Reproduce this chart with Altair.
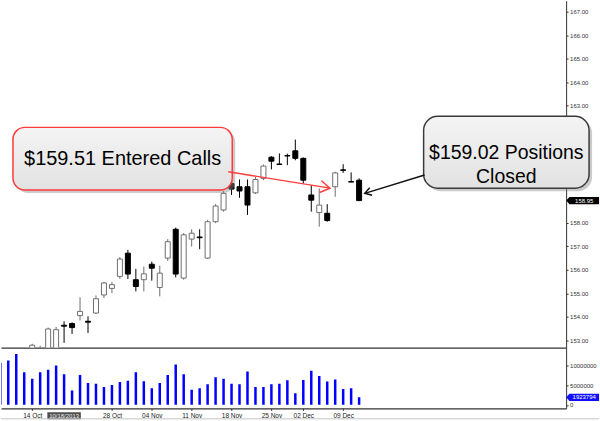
import math
from datetime import date

import altair as alt
import pandas as pd

# Trading sessions on the chart (weekends and Thanksgiving are skipped)
sessions = [
    "2013-10-08", "2013-10-09", "2013-10-10", "2013-10-11",
    "2013-10-14", "2013-10-15", "2013-10-16", "2013-10-17", "2013-10-18",
    "2013-10-21", "2013-10-22", "2013-10-23", "2013-10-24", "2013-10-25",
    "2013-10-28", "2013-10-29", "2013-10-30", "2013-10-31", "2013-11-01",
    "2013-11-04", "2013-11-05", "2013-11-06", "2013-11-07", "2013-11-08",
    "2013-11-11", "2013-11-12", "2013-11-13", "2013-11-14", "2013-11-15",
    "2013-11-18", "2013-11-19", "2013-11-20", "2013-11-21", "2013-11-22",
    "2013-11-25", "2013-11-26", "2013-11-27", "2013-11-29",
    "2013-12-02", "2013-12-03", "2013-12-04", "2013-12-05", "2013-12-06",
    "2013-12-09", "2013-12-10", "2013-12-11",
]

# Daily volume, one value per session
volume = [
    10800000, 11400000, 13100000, 8400000,
    6700000, 8400000, 9000000, 10100000, 7900000,
    3700000, 7700000, 5600000, 5400000, 4600000,
    5100000, 5900000, 6200000, 8400000, 6100000,
    4300000, 5600000, 7700000, 10400000, 7900000,
    3900000, 4300000, 5300000, 7100000, 6700000,
    5400000, 5300000, 8600000, 4600000, 4600000,
    5300000, 5400000, 6300000, 3000000,
    6400000, 8800000, 7400000, 6000000, 6500000,
    4100000, 4300000, 1923794,
]

# Daily prices from 14 Oct onward
candle_start = "2013-10-14"
opens = [
    152.65, 152.30, 152.20, 152.30, 153.64,
    153.71, 154.05, 153.81, 154.16, 154.93,
    155.21, 155.72, 156.71, 155.58, 155.58,
    156.24, 155.25, 156.50, 157.73, 155.65,
    157.31, 157.40, 156.50, 158.05, 158.55,
    159.68, 159.54, 159.54, 159.28, 159.90,
    160.80, 160.51, 160.87, 161.07,
    160.75, 159.19, 158.44, 158.41, 159.54,
    160.26, 159.76, 159.82,
]
highs = [
    152.85, 152.77, 153.54, 153.57, 153.81,
    153.76, 154.83, 154.02, 154.91, 155.49,
    155.49, 156.54, 156.85, 156.04, 156.14,
    156.35, 156.18, 157.31, 157.80, 157.57,
    157.73, 157.73, 158.13, 158.80, 159.36,
    159.96, 159.85, 159.85, 159.96, 160.49,
    160.84, 160.96, 160.95, 161.55,
    160.79, 159.61, 159.47, 158.80, 160.18,
    160.50, 160.15, 159.90,
]
lows = [
    152.40, 152.00, 152.10, 152.20, 152.89,
    153.27, 153.84, 153.31, 154.12, 154.80,
    155.01, 155.61, 155.61, 155.08, 155.08,
    155.54, 154.87, 156.38, 155.68, 155.58,
    156.99, 156.88, 156.47, 157.99, 158.48,
    159.19, 159.07, 158.34, 159.23, 159.82,
    160.28, 160.48, 160.46, 160.67,
    159.68, 158.48, 157.84, 158.05, 159.11,
    160.13, 159.74, 158.93,
]
closes = [
    152.79, 152.50, 153.48, 153.45, 153.60,
    153.54, 154.23, 153.77, 154.77, 155.44,
    155.37, 156.46, 155.82, 155.29, 155.83,
    156.07, 155.86, 157.20, 155.82, 157.49,
    157.56, 157.37, 158.05, 158.72, 159.26,
    159.44, 159.36, 158.76, 159.85, 160.42,
    160.63, 160.49, 160.85, 160.75,
    159.82, 158.97, 158.76, 158.10, 160.13,
    160.24, 159.74, 158.95,
]

# Weekly date labels along the bottom axis, and the highlighted session
axis_dates = ["2013-10-14", "2013-10-28", "2013-11-04", "2013-11-11",
              "2013-11-18", "2013-11-25", "2013-12-02", "2013-12-09"]
marker_date = "2013-10-18"

entry_price = 159.51
exit_price = 159.02
# price gridline labels left uncovered by the exit callout and the last-price tag
price_ticks = [153, 154, 155, 156, 157, 158, 163, 164, 165, 166, 167]
volume_ticks = [0, 5000000, 10000000]

# ---- layout -------------------------------------------------------------
W = 567
H_PRICE = 348
H_VOL = 61
X0, X1 = 0.0875, 70.96           # session-index range across the plot
P0, P1 = 152.69, 167.467         # price range of the upper panel
V0, V1 = -897000, 14740000       # volume range of the lower panel
PX_PER_X = W / (X1 - X0)
PX_PER_P = H_PRICE / (P1 - P0)

FONT = "Liberation Sans"
AXIS_COLOR = "#333333"

idx = {d: i for i, d in enumerate(sessions)}
k0 = idx[candle_start]

candles = pd.DataFrame({
    "i": list(range(k0, k0 + len(opens))),
    "open": opens, "high": highs, "low": lows, "close": closes,
})
candles["dir"] = ["up" if c >= o else "down" for o, c in zip(opens, closes)]

vol_df = pd.DataFrame({"i": list(range(len(sessions))), "vol": volume})

xs = alt.Scale(domain=[X0, X1], nice=False, zero=False, padding=0)
ps = alt.Scale(domain=[P0, P1], nice=False, zero=False, padding=0)
vs = alt.Scale(domain=[V0, V1], nice=False, zero=False, padding=0)

dir_stroke = alt.Scale(domain=["up", "down"], range=["#6e6e6e", "#000000"])
dir_fill = alt.Scale(domain=["up", "down"], range=["#ffffff", "#000000"])


def right_axis(values, fmt):
    return alt.Axis(orient="right", values=values, format=fmt, title=None,
                    grid=False, domain=True, domainColor=AXIS_COLOR,
                    domainWidth=1, ticks=True, tickSize=2,
                    tickColor=AXIS_COLOR, labelFont=FONT, labelFontSize=6,
                    labelColor="#333333", labelPadding=1.5,
                    labelOverlap=False)


tick_idx = [idx[d] for d in axis_dates]
tick_lab = [date.fromisoformat(d).strftime("%d %b") for d in axis_dates]
label_expr = " : ".join(
    f"datum.value == {i} ? '{lab}'" for i, lab in zip(tick_idx, tick_lab)
) + " : ''"

# one axis definition per channel, repeated on every layer of a panel
price_x_axis = alt.Axis(orient="bottom", labels=False, ticks=False, grid=False,
                        title=None, domain=True, domainColor=AXIS_COLOR,
                        domainWidth=1.2)
price_y_axis = right_axis(price_ticks, ".2f")
vol_x_axis = alt.Axis(orient="bottom", values=tick_idx, labelExpr=label_expr,
                      title=None, grid=False, domain=True,
                      domainColor=AXIS_COLOR, domainWidth=1.2, ticks=True,
                      tickSize=2, tickColor=AXIS_COLOR, labelFont=FONT,
                      labelFontSize=6.5, labelColor="#222222", labelPadding=2.5,
                      labelOverlap=False, labelFlush=False)
vol_y_axis = right_axis(volume_ticks, "d")


def px(field):
    return alt.X(field, type="quantitative", scale=xs, axis=price_x_axis)


def py(field):
    return alt.Y(field, type="quantitative", scale=ps, axis=price_y_axis)


def vx(field):
    return alt.X(field, type="quantitative", scale=xs, axis=vol_x_axis)


def vy(field):
    return alt.Y(field, type="quantitative", scale=vs, axis=vol_y_axis)


# ---- price panel ----------------------------------------------------------
base = alt.Chart(candles)
wicks = base.mark_rule(strokeWidth=1, clip=True).encode(
    x=px("i"), y=py("low"), y2="high:Q",
    stroke=alt.Stroke("dir:N", scale=dir_stroke, legend=None),
)
bodies = base.mark_bar(size=5, strokeWidth=1, clip=True).encode(
    x=px("i"), y=py("open"), y2="close:Q",
    fill=alt.Fill("dir:N", scale=dir_fill, legend=None),
    stroke=alt.Stroke("dir:N", scale=dir_stroke, legend=None),
)

box_fill = alt.LinearGradient(
    gradient="linear", x1=0, y1=0, x2=0, y2=1,
    stops=[alt.GradientStop(offset=0, color="#f4f4f4"),
           alt.GradientStop(offset=1, color="#e2e2e2")],
)

# callout boxes, in session-index / price units
entry_box = pd.DataFrame({"x": [1.59], "x2": [29.09], "y": [162.07], "y2": [159.40]})
exit_box = pd.DataFrame({"x": [53.09], "x2": [73.84], "y": [162.54], "y2": [159.48]})


def callout(df, radius, edge):
    shadow = alt.Chart(df).mark_rect(
        cornerRadius=radius, fill="#8c8c8c", opacity=0.45,
        xOffset=3, x2Offset=3, yOffset=3, y2Offset=3,
    ).encode(x=px("x"), x2="x2:Q", y=py("y"), y2="y2:Q")
    box = alt.Chart(df).mark_rect(
        cornerRadius=radius, fill=box_fill, stroke=edge, strokeWidth=1.5,
    ).encode(x=px("x"), x2="x2:Q", y=py("y"), y2="y2:Q")
    return shadow + box


entry_text = alt.Chart(pd.DataFrame({
    "x": [15.34], "y": [160.72], "t": [f"${entry_price:.2f} Entered Calls"],
})).mark_text(font=FONT, fontSize=20, color="#000000").encode(
    x=px("x"), y=py("y"), text="t:N")

exit_text = alt.Chart(pd.DataFrame({
    "x": [63.46], "y": [160.97], "t": [f"${exit_price:.2f} Positions\nClosed"],
})).mark_text(font=FONT, fontSize=19.5, color="#000000", lineBreak="\n",
              lineHeight=24).encode(x=px("x"), y=py("y"), text="t:N")

CHEVRON = "M-1.6,-1L0,0L-1.6,1"


def arrow(x_from, p_from, x_to, p_to, color, head_size):
    df = pd.DataFrame({"x": [x_from], "y": [p_from], "x2": [x_to], "y2": [p_to]})
    dx = (x_to - x_from) * PX_PER_X
    dy = -(p_to - p_from) * PX_PER_P
    ang = math.degrees(math.atan2(dy, dx)) % 360
    shaft = alt.Chart(df).mark_rule(color=color, strokeWidth=1.4).encode(
        x=px("x"), y=py("y"), x2="x2:Q", y2="y2:Q")
    head = alt.Chart(df).mark_point(
        shape=CHEVRON, size=head_size, angle=ang, filled=False,
        stroke=color, strokeWidth=1.5, opacity=1,
    ).encode(x=px("x2"), y=py("y2"))
    return shaft + head


entry_arrow = arrow(28.59, 160.18, 41.34, 159.48, "#ff3b3b", 144)
exit_arrow = arrow(53.21, 160.04, 45.71, 159.26, "#111111", 64)

TAG = "M-1,0L-0.8,-0.22L1,-0.22L1,0.22L-0.8,0.22Z"
TAG_X = 73.03

last_df = pd.DataFrame({"x": [TAG_X], "tx": [TAG_X + 0.2], "y": [closes[-1]],
                        "t": [f"{closes[-1]:.2f}"]})
last_tag = alt.Chart(last_df).mark_point(
    shape=TAG, size=1089, filled=True, fill="#000000", strokeWidth=0, opacity=1,
).encode(x=px("x"), y=py("y"))
last_text = alt.Chart(last_df).mark_text(
    font=FONT, fontSize=6, color="#ffffff").encode(x=px("tx"), y=py("y"), text="t:N")

price = alt.layer(
    wicks, bodies,
    callout(entry_box, 12, "#ff3b3b"), entry_text, entry_arrow,
    callout(exit_box, 14, "#3a3a3a"), exit_text, exit_arrow,
    last_tag, last_text,
).properties(width=W, height=H_PRICE)

# ---- volume panel ---------------------------------------------------------
vbars = alt.Chart(vol_df).mark_bar(size=2.5, color="#0000ff", clip=True).encode(
    x=vx("i"), y=vy("vol"),
)

mk = idx[marker_date]
marker_df = pd.DataFrame({"x": [mk - 2.1], "x2": [mk + 2.1], "i": [mk],
                          "t": [date.fromisoformat(marker_date).strftime("%m/%d/%Y")]})
marker_box = alt.Chart(marker_df).mark_rect(fill="#4f4f4f").encode(
    x=vx("x"), x2="x2:Q", y=alt.value(65), y2=alt.value(72))
marker_text = alt.Chart(marker_df).mark_text(
    font=FONT, fontSize=6, color="#eeeeee").encode(
    x=vx("i"), y=alt.value(68.5), text="t:N")

vol_tag_df = pd.DataFrame({"x": [TAG_X], "tx": [TAG_X + 0.2], "y": [volume[-1]],
                           "t": [str(volume[-1])]})
vol_tag = alt.Chart(vol_tag_df).mark_point(
    shape=TAG, size=1089, filled=True, fill="#1010ff", strokeWidth=0, opacity=1,
).encode(x=vx("x"), y=vy("y"))
vol_text = alt.Chart(vol_tag_df).mark_text(
    font=FONT, fontSize=6, color="#ffffff").encode(x=vx("tx"), y=vy("y"), text="t:N")

bottom_rule = alt.Chart(vol_tag_df).mark_rule(color="#c4c4c4", strokeWidth=1).encode(
    x=alt.value(0), x2=alt.value(600), y=alt.value(71.5))

vol = alt.layer(
    vbars, marker_box, marker_text, vol_tag, vol_text, bottom_rule,
).properties(width=W, height=H_VOL)

chart = alt.vconcat(price, vol, spacing=0, bounds="flush").properties(
    padding=0, background="#ffffff",
).configure_view(stroke=None)

chart.save("out.html", embed_options={"renderer": "svg", "actions": False})
